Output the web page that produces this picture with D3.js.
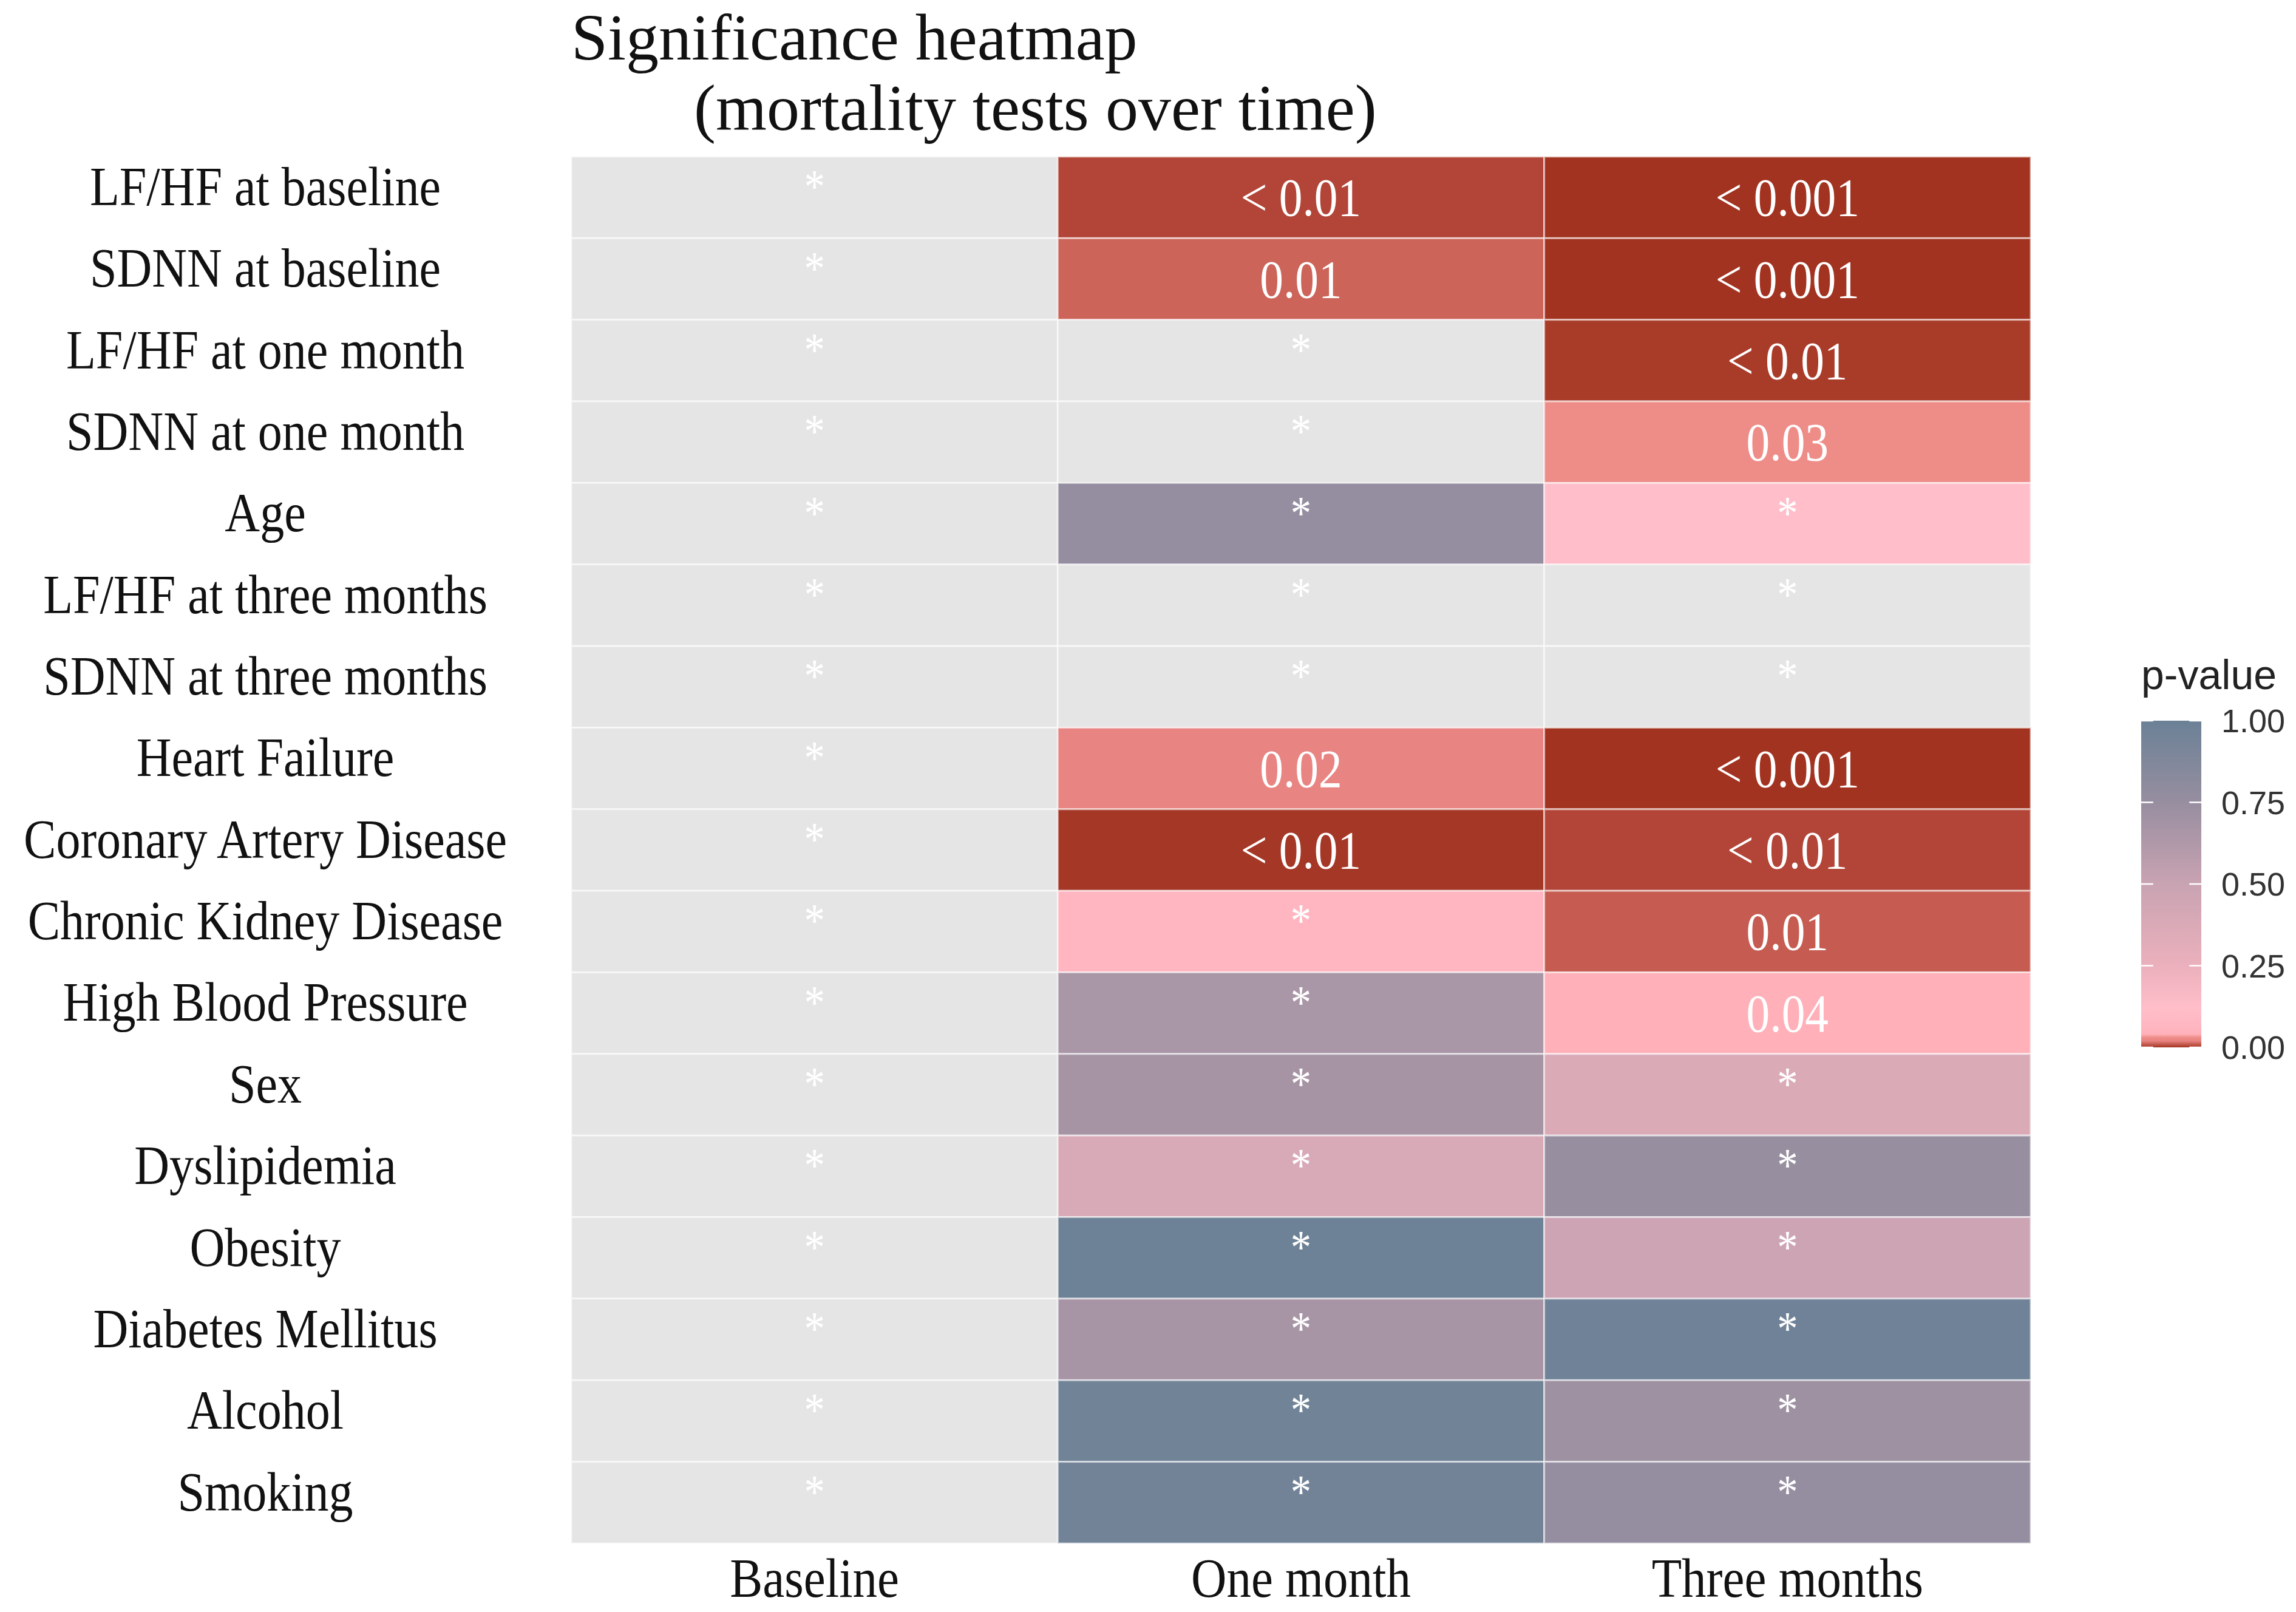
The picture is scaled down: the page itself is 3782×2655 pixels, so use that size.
<!DOCTYPE html>
<html>
<head>
<meta charset="utf-8">
<script src="https://cdn.jsdelivr.net/npm/d3@7"></script>
<style>
  html, body { margin: 0; padding: 0; background: #ffffff; }
  svg { display: block; }
</style>
</head>
<body>
<svg id="chart" width="3782" height="2655"></svg>
<script>
// ---------------- data ----------------
const rowLabels = [
  "LF/HF at baseline", "SDNN at baseline", "LF/HF at one month", "SDNN at one month",
  "Age", "LF/HF at three months", "SDNN at three months", "Heart Failure",
  "Coronary Artery Disease", "Chronic Kidney Disease", "High Blood Pressure", "Sex",
  "Dyslipidemia", "Obesity", "Diabetes Mellitus", "Alcohol", "Smoking"
];
const timepoints = ["Baseline", "One month", "Three months"];
// p-values per time point (null = not tested / NA)
const pBaseline = [null, null, null, null, null, null, null, null, null, null, null, null, null, null, null, null, null];
const pOneMonth = [0.004, 0.012, null, null, 0.76, null, null, 0.02, 0.001, 0.06, 0.66, 0.675, 0.39, 0.99, 0.67, 0.97, 0.96];
const pThreeMonths = [0.0005, 0.0005, 0.002, 0.03, 0.12, null, null, 0.0005, 0.004, 0.010, 0.04, 0.375, 0.75, 0.48, 0.98, 0.72, 0.76];
const legendTicks = [0, 0.25, 0.5, 0.75, 1];
const titleLines = ["Significance heatmap", "(mortality tests over time)"];
const legendTitle = "p-value";

// ---------------- styling ----------------
const colourStops = [0, 0.001, 0.002, 0.004, 0.012, 0.02, 0.03, 0.04, 0.06, 0.12, 0.25, 0.5, 0.75, 1];
const colourValues = ["#9e2f1c", "#a53726", "#a93b29", "#b24537", "#cc645a", "#e88482", "#ee8c88",
                      "#ffb0b8", "#ffb6c1", "#ffbec9", "#ebb0bc", "#c9a3b2", "#978ea0", "#6b8196"];
const naColour = "#e5e5e5";
const serif = "'Liberation Serif', 'Times New Roman', serif";
const sans = "'Liberation Sans', Arial, sans-serif";
const squeeze = "scale(0.88,1)";   // condensed look of the original serif face

// ---------------- build table ----------------
const series = [pBaseline, pOneMonth, pThreeMonths];
const cells = [];
timepoints.forEach((t, j) => {
  rowLabels.forEach((r, i) => cells.push({ row: r, time: t, p: series[j][i] }));
});

function pLabel(p) {
  if (p === null) return "*";
  if (p < 0.001) return "< 0.001";
  if (p < 0.01) return "< 0.01";
  if (p < 0.05) return p.toFixed(2);
  return "*";
}

const svg = d3.select("#chart");
const grid = { left: 941, right: 3345, top: 258, bottom: 2542 };

const x = d3.scaleBand().domain(timepoints).range([grid.left, grid.right]).padding(0);
const y = d3.scaleBand().domain(rowLabels).range([grid.top, grid.bottom]).padding(0);
const colour = d3.scaleLinear().domain(colourStops).range(colourValues).interpolate(d3.interpolateRgb).clamp(true);

// tiles
svg.append("g").selectAll("rect").data(cells).join("rect")
  .attr("x", d => x(d.time))
  .attr("y", d => y(d.row))
  .attr("width", x.bandwidth())
  .attr("height", y.bandwidth())
  .attr("fill", d => d.p === null ? naColour : colour(d.p))
  .attr("stroke", "#ffffff")
  .attr("stroke-opacity", 0.55)
  .attr("stroke-width", 3);

// tile labels
svg.append("g").selectAll("text").data(cells).join("text")
  .attr("transform", d => {
    const lab = pLabel(d.p);
    const cx = x(d.time) + x.bandwidth() / 2;
    const cy = y(d.row) + y.bandwidth() / 2 + (lab === "*" ? 8 : 30);
    return `translate(${cx},${cy}) ${squeeze}`;
  })
  .attr("text-anchor", "middle")
  .attr("font-family", serif)
  .attr("font-size", d => pLabel(d.p) === "*" ? 78 : 88)
  .attr("fill", "#ffffff")
  .text(d => pLabel(d.p));

// y axis (row labels)
const yAxis = d3.axisLeft(y).tickSize(0).tickPadding(0);
const gy = svg.append("g").attr("transform", `translate(437,0)`).call(yAxis);
gy.select(".domain").remove();
gy.selectAll("text")
  .attr("text-anchor", "middle")
  .attr("font-family", serif)
  .attr("font-size", 91)
  .attr("fill", "#111111")
  .attr("transform", squeeze)
  .attr("dy", "0.14em");

// x axis
const xAxis = d3.axisBottom(x).tickSize(0).tickPadding(0);
const gx = svg.append("g").attr("transform", `translate(0,${grid.bottom})`).call(xAxis);
gx.select(".domain").remove();
gx.selectAll("text")
  .attr("font-family", serif)
  .attr("font-size", 92)
  .attr("fill", "#111111")
  .attr("transform", squeeze)
  .attr("dy", null)
  .attr("y", 88);

// title
svg.append("text").attr("x", grid.left).attr("y", 98)
  .attr("font-family", serif).attr("font-size", 108).attr("fill", "#111111")
  .text(titleLines[0]);
svg.append("text").attr("x", 1143).attr("y", 214)
  .attr("font-family", serif).attr("font-size", 108).attr("fill", "#111111")
  .text(titleLines[1]);

// legend
const leg = { x: 3527, w: 99, top: 1187, bottom: 1725 };
const ly = d3.scaleLinear().domain([0, 1]).range([leg.bottom, leg.top]);
const defs = svg.append("defs");
const grad = defs.append("linearGradient").attr("id", "pgrad")
  .attr("x1", 0).attr("y1", 1).attr("x2", 0).attr("y2", 0);
grad.selectAll("stop").data(d3.range(0, 1.0001, 0.002)).join("stop")
  .attr("offset", d => d)
  .attr("stop-color", d => colour(d));

svg.append("rect")
  .attr("x", leg.x).attr("y", leg.top)
  .attr("width", leg.w).attr("height", leg.bottom - leg.top)
  .attr("fill", "url(#pgrad)");

const tickLen = leg.w * 0.2;
const lt = svg.append("g");
lt.selectAll("line.l").data(legendTicks).join("line").attr("class", "l")
  .attr("x1", leg.x).attr("x2", leg.x + tickLen)
  .attr("y1", d => ly(d)).attr("y2", d => ly(d))
  .attr("stroke", "#ffffff").attr("stroke-width", 2.5);
lt.selectAll("line.r").data(legendTicks).join("line").attr("class", "r")
  .attr("x1", leg.x + leg.w - tickLen).attr("x2", leg.x + leg.w)
  .attr("y1", d => ly(d)).attr("y2", d => ly(d))
  .attr("stroke", "#ffffff").attr("stroke-width", 2.5);

const legAxis = d3.axisRight(ly).tickValues(legendTicks).tickFormat(d3.format(".2f")).tickSize(0).tickPadding(0);
const gl = svg.append("g").attr("transform", `translate(${leg.x + leg.w + 33},0)`).call(legAxis);
gl.select(".domain").remove();
gl.selectAll("text")
  .attr("font-family", sans)
  .attr("font-size", 54)
  .attr("fill", "#333333")
  .attr("dy", "0.35em");

svg.append("text").attr("x", leg.x).attr("y", 1135)
  .attr("font-family", sans).attr("font-size", 68).attr("fill", "#222222")
  .text(legendTitle);
</script>
</body>
</html>
